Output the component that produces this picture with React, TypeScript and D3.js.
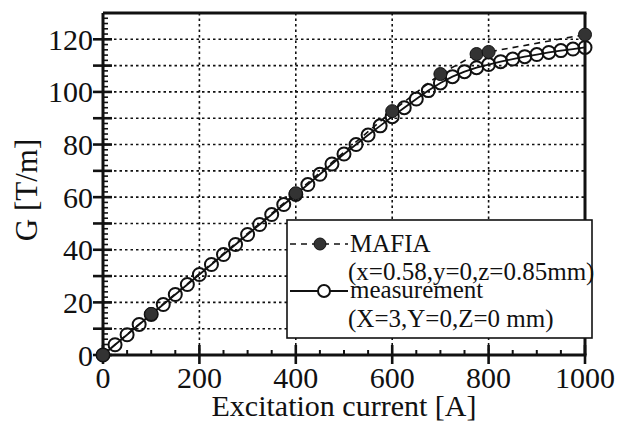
import React from "react";
import * as d3 from "d3";

// measured gradient (open circles), every 25 A
const measCurrent = [
  0, 25, 50, 75, 100, 125, 150, 175, 200, 225, 250, 275, 300, 325, 350, 375, 400,
  425, 450, 475, 500, 525, 550, 575, 600, 625, 650, 675, 700, 725, 750, 775, 800,
  825, 850, 875, 900, 925, 950, 975, 1000,
];
const measG = [
  0, 3.9, 7.7, 11.6, 15.4, 19.2, 23.0, 26.8, 30.6, 34.4, 38.2, 42.0, 45.8, 49.6, 53.4, 57.2, 61.0,
  64.8, 68.7, 72.6, 76.4, 80.0, 83.6, 87.1, 90.6, 94.0, 97.3, 100.5, 103.4, 105.8, 107.7, 109.2, 110.4,
  111.5, 112.5, 113.4, 114.2, 115.0, 115.7, 116.3, 116.9,
];

// MAFIA simulation (filled circles)
const mafiaCurrent = [0, 100, 400, 600, 700, 775, 800, 1000];
const mafiaG = [0, 15.6, 61.5, 92.7, 106.8, 114.4, 115.2, 121.8];

const xTickLabels = [0, 200, 400, 600, 800, 1000];
const xMinorTicks = [50, 100, 150, 250, 300, 350, 450, 500, 550, 650, 700, 750, 850, 900, 950];
const yTickLabels = [0, 20, 40, 60, 80, 100, 120];
const yMajorTicks = [0, 10, 20, 30, 40, 50, 60, 70, 80, 90, 100, 110, 120];
const yGridLines = [10, 20, 30, 40, 50, 60, 70, 80, 90, 100, 110, 120];

const FONT = "'Liberation Serif', 'Times New Roman', serif";

export default function App() {
  const width = 621;
  const height = 423;
  const left = 103, right = 585, top = 13, bottom = 355;

  const x = d3.scaleLinear().domain([0, 1000]).range([left, right]);
  const y = d3.scaleLinear().domain([0, 130]).range([bottom, top]);

  const yMinor = d3.range(0, 130, 2);

  const meas = measCurrent.map((c, i) => ({ c, g: measG[i] }));
  const mafia = mafiaCurrent.map((c, i) => ({ c, g: mafiaG[i] }));

  const line = d3.line<{ c: number; g: number }>()
    .x((d) => x(d.c))
    .y((d) => y(d.g));

  return (
    <svg
      width={width}
      height={height}
      style={{ position: "absolute", left: 0, top: 0, display: "block", background: "#fff" }}
      fontFamily={FONT}
    >
      <rect x={0} y={0} width={width} height={height} fill="#fff" />

      {/* grid */}
      <g stroke="#111" strokeWidth={1.6} strokeDasharray="2.5,3">
        {yGridLines.map((v) => (
          <line key={"gy" + v} x1={left} x2={right} y1={y(v)} y2={y(v)} />
        ))}
        {xTickLabels.slice(1, -1).map((v) => (
          <line key={"gx" + v} x1={x(v)} x2={x(v)} y1={top} y2={bottom} />
        ))}
      </g>

      {/* frame */}
      <g stroke="#111" fill="none">
        <line x1={left} x2={right + 1.5} y1={top} y2={top} strokeWidth={3} />
        <line x1={right} x2={right} y1={top} y2={bottom} strokeWidth={3} />
        <line x1={left} x2={left} y1={top} y2={bottom + 1.5} strokeWidth={3} />
        <line x1={left - 1.5} x2={right + 1.5} y1={bottom} y2={bottom} strokeWidth={3} />
      </g>

      {/* ticks */}
      <g stroke="#111">
        {yMinor.map((v) => (
          <line key={"ym" + v} x1={left} x2={left + 5} y1={y(v)} y2={y(v)} strokeWidth={1.6} />
        ))}
        {yMajorTicks.map((v) => (
          <line key={"yM" + v} x1={left - 10} x2={left + 9} y1={y(v)} y2={y(v)} strokeWidth={2.6} />
        ))}
        {xMinorTicks.map((v) => (
          <line key={"xm" + v} x1={x(v)} x2={x(v)} y1={bottom} y2={bottom - 5} strokeWidth={2} />
        ))}
        {xTickLabels.map((v) => (
          <line key={"xM" + v} x1={x(v)} x2={x(v)} y1={bottom + 9} y2={bottom - 10} strokeWidth={2.6} />
        ))}
      </g>

      {/* tick labels */}
      <g fontSize={30} fill="#111">
        {yTickLabels.map((v) => (
          <text key={"yl" + v} x={left - 10} y={y(v)} dy="0.35em" textAnchor="end">
            {v}
          </text>
        ))}
        {xTickLabels.map((v) => (
          <text key={"xl" + v} x={x(v)} y={388} textAnchor="middle">
            {v}
          </text>
        ))}
      </g>

      {/* axis titles */}
      <text x={(left + right) / 2} y={416} fontSize={30} textAnchor="middle" fill="#111">
        Excitation current [A]
      </text>
      <text
        transform={`translate(37, 190) rotate(-90)`}
        fontSize={31}
        textAnchor="middle"
        fill="#111"
      >
        G [T/m]
      </text>

      {/* MAFIA dashed line */}
      <path d={line(mafia) ?? ""} fill="none" stroke="#111" strokeWidth={1.6} strokeDasharray="6,5" />

      {/* measurement */}
      <path d={line(meas) ?? ""} fill="none" stroke="#111" strokeWidth={1.8} />
      <g fill="none" stroke="#111" strokeWidth={2}>
        {meas.map((d) => (
          <circle key={"m" + d.c} cx={x(d.c)} cy={y(d.g)} r={6.5} />
        ))}
      </g>
      <g fill="#333" stroke="#111" strokeWidth={1}>
        {mafia.map((d) => (
          <circle key={"f" + d.c} cx={x(d.c)} cy={y(d.g)} r={6.5} />
        ))}
      </g>

      {/* legend */}
      <g>
        <rect x={287} y={220} width={305} height={118} fill="#fff" stroke="#111" strokeWidth={1.6} />
        <line x1={290} x2={348} y1={244} y2={244} stroke="#111" strokeWidth={1.6} strokeDasharray="6,5" />
        <circle cx={320} cy={244} r={6} fill="#333" stroke="#111" strokeWidth={1} />
        <line x1={290} x2={348} y1={291} y2={291} stroke="#111" strokeWidth={1.8} />
        <circle cx={324} cy={291} r={6} fill="#fff" stroke="#111" strokeWidth={2} />
        <g fontSize={25} fill="#111">
          <text x={350} y={252}>MAFIA</text>
          <text x={348} y={280}>(x=0.58,y=0,z=0.85mm)</text>
          <text x={350} y={298}>measurement</text>
          <text x={348} y={327}>(X=3,Y=0,Z=0 mm)</text>
        </g>
      </g>
    </svg>
  );
}
